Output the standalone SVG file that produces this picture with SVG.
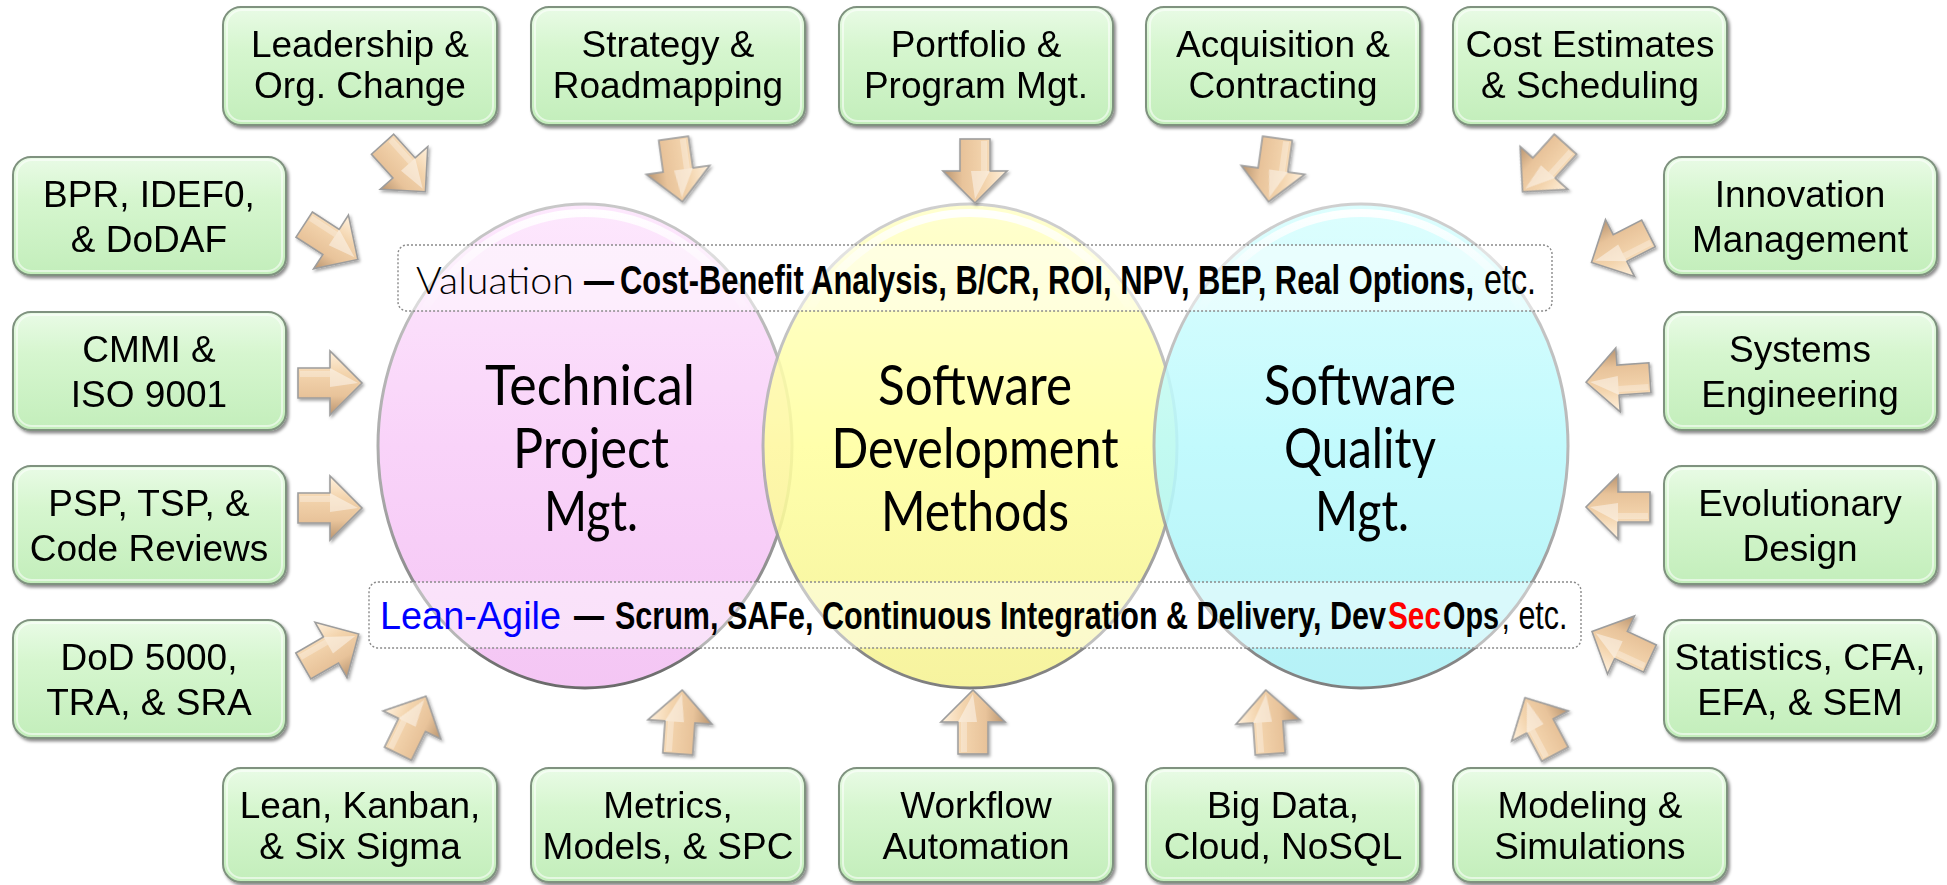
<svg xmlns="http://www.w3.org/2000/svg" xmlns:xlink="http://www.w3.org/1999/xlink" width="1947" height="885" viewBox="0 0 1947 885">
<defs>
<style>
.box{fill:url(#boxG);stroke:#7f927f;stroke-width:2;filter:url(#bsh)}
.hl{fill:none;stroke:#ffffff;stroke-opacity:0.55;stroke-width:2}
.bt{font-family:"Liberation Sans",Arial,sans-serif;font-size:37px;fill:#000;text-anchor:middle}
.ct{font-family:Lato,"Liberation Sans",sans-serif;font-size:56px;fill:#000;text-anchor:middle}
.ban{fill:#ffffff;fill-opacity:0.45;stroke:#8a8a8a;stroke-width:1.4;stroke-dasharray:2 2}
.bl{font-family:"Liberation Sans",Arial,sans-serif;font-size:30.6px;fill:#000}
.b{font-weight:bold}
.rim{fill:none;stroke:url(#rimG);stroke-width:3}
.gloss{fill:none;stroke:url(#glossG);stroke-width:8}
</style>
<linearGradient id="boxG" x1="0" y1="0" x2="0" y2="1">
<stop offset="0" stop-color="#e9fbe6"/>
<stop offset="0.35" stop-color="#d6f6cf"/>
<stop offset="1" stop-color="#c3eebb"/>
</linearGradient>
<linearGradient id="pinkG" x1="0" y1="0" x2="0" y2="1">
<stop offset="0" stop-color="#fde8fd"/>
<stop offset="0.5" stop-color="#f9d3f9"/>
<stop offset="1" stop-color="#f4c6f4"/>
</linearGradient>
<linearGradient id="yelG" x1="0" y1="0" x2="0" y2="1">
<stop offset="0" stop-color="#ffffc8"/>
<stop offset="0.5" stop-color="#ffff9e"/>
<stop offset="1" stop-color="#f5f290"/>
</linearGradient>
<linearGradient id="cyaG" x1="0" y1="0" x2="0" y2="1">
<stop offset="0" stop-color="#d8fefe"/>
<stop offset="0.5" stop-color="#b9fafd"/>
<stop offset="1" stop-color="#aaf0f5"/>
</linearGradient>
<linearGradient id="rimG" x1="0" y1="0" x2="0" y2="1">
<stop offset="0" stop-color="#c8c8c8"/>
<stop offset="0.6" stop-color="#a8a8a8"/>
<stop offset="1" stop-color="#6a6a6a"/>
</linearGradient>
<linearGradient id="glossG" x1="0" y1="0" x2="0" y2="1">
<stop offset="0" stop-color="#ffffff" stop-opacity="0.95"/>
<stop offset="0.22" stop-color="#ffffff" stop-opacity="0"/>
<stop offset="1" stop-color="#ffffff" stop-opacity="0"/>
</linearGradient>
<linearGradient id="arG" gradientUnits="userSpaceOnUse" x1="0" y1="-32" x2="0" y2="32">
<stop offset="0" stop-color="#fff1dd"/>
<stop offset="0.35" stop-color="#f3d4ad"/>
<stop offset="0.7" stop-color="#e8c39a"/>
<stop offset="1" stop-color="#b89470"/>
</linearGradient>
<filter id="bsh" x="-10%" y="-10%" width="125%" height="130%">
<feDropShadow dx="2" dy="2.5" stdDeviation="1.5" flood-color="#000" flood-opacity="0.45"/>
</filter>
<filter id="ash" x="-30%" y="-30%" width="160%" height="160%">
<feDropShadow dx="1.5" dy="2" stdDeviation="1.5" flood-color="#000" flood-opacity="0.35"/>
</filter>
<g id="arw">
<path d="M-32,-15 L0,-15 L0,-32 L32,0 L0,32 L0,15 L-32,15 Z" fill="url(#arG)" stroke="#9d9d9d" stroke-width="1.6" stroke-linejoin="miter"/>
<path d="M0,-15 L28,0 L0,4 Z" fill="#ffffff" fill-opacity="0.45"/>
<path d="M-30,-12 L0,-12 L0,-6 L-30,-6 Z" fill="#ffffff" fill-opacity="0.3"/>
</g>
</defs>

<rect x="0" y="0" width="1947" height="885" fill="#ffffff"/>

<!-- circles -->
<g id="c-tpm">
<ellipse cx="585" cy="446" rx="207" ry="242" fill="url(#pinkG)"/>
<ellipse class="rim" cx="585" cy="446" rx="207" ry="242"/>
<ellipse class="gloss" cx="585" cy="446" rx="198" ry="233"/>
</g>
<g id="c-sdm" opacity="0.86">
<ellipse cx="970" cy="446" rx="207" ry="242" fill="url(#yelG)"/>
<ellipse class="rim" cx="970" cy="446" rx="207" ry="242"/>
<ellipse class="gloss" cx="970" cy="446" rx="198" ry="233"/>
</g>
<g id="c-sqm" opacity="0.86">
<ellipse cx="1361" cy="446" rx="207" ry="242" fill="url(#cyaG)"/>
<ellipse class="rim" cx="1361" cy="446" rx="207" ry="242"/>
<ellipse class="gloss" cx="1361" cy="446" rx="198" ry="233"/>
</g>

<g id="c-labels">
<text class="ct" x="590" y="405" textLength="210" lengthAdjust="spacingAndGlyphs">Technical</text>
<text class="ct" x="591" y="468" textLength="156" lengthAdjust="spacingAndGlyphs">Project</text>
<text class="ct" x="591" y="531" textLength="94" lengthAdjust="spacingAndGlyphs">Mgt.</text>
<text class="ct" x="975" y="405" textLength="194" lengthAdjust="spacingAndGlyphs">Software</text>
<text class="ct" x="975" y="468" textLength="287" lengthAdjust="spacingAndGlyphs">Development</text>
<text class="ct" x="975" y="531" textLength="188" lengthAdjust="spacingAndGlyphs">Methods</text>
<text class="ct" x="1360" y="405" textLength="192" lengthAdjust="spacingAndGlyphs">Software</text>
<text class="ct" x="1360" y="468" textLength="152" lengthAdjust="spacingAndGlyphs">Quality</text>
<text class="ct" x="1362" y="531" textLength="94" lengthAdjust="spacingAndGlyphs">Mgt.</text>
</g>

<!-- banners -->
<g id="b-valuation">
<rect class="ban" x="398" y="245" width="1154" height="66" rx="9"/>
<text x="416" y="294" font-family="Lato,'Liberation Sans',sans-serif" font-weight="300" font-size="38" fill="#000" textLength="158" lengthAdjust="spacingAndGlyphs">Valuation</text>
<text class="bl" y="294" transform="matrix(1 0 0 1.3 0 -88.2)"><tspan class="b" x="584" textLength="30" lengthAdjust="spacingAndGlyphs">—</tspan><tspan class="b" x="620" textLength="854" lengthAdjust="spacingAndGlyphs">Cost-Benefit Analysis, B/CR, ROI, NPV, BEP, Real Options,</tspan><tspan x="1484" font-size="32" textLength="52" lengthAdjust="spacingAndGlyphs">etc.</tspan></text>
</g>
<g id="b-leanagile">
<rect class="ban" x="369" y="582" width="1212" height="66" rx="9"/>
<text x="380" y="629" font-family="'Liberation Sans',Arial,sans-serif" font-size="38" fill="#0000ff" textLength="181" lengthAdjust="spacingAndGlyphs">Lean-Agile</text>
<text class="bl" y="629" transform="matrix(1 0 0 1.3 0 -188.7)"><tspan class="b" x="574" textLength="30" lengthAdjust="spacingAndGlyphs">—</tspan><tspan class="b" x="615" font-size="30.4" textLength="771" lengthAdjust="spacingAndGlyphs">Scrum, SAFe, Continuous Integration &amp; Delivery, Dev</tspan><tspan class="b" x="1388" font-size="30.2" fill="#ff0000" textLength="53" lengthAdjust="spacingAndGlyphs">Sec</tspan><tspan class="b" x="1443" font-size="29.4" textLength="56" lengthAdjust="spacingAndGlyphs">Ops</tspan><tspan x="1501.5" font-size="30.8" textLength="66" lengthAdjust="spacingAndGlyphs">, etc.</tspan></text>
</g>

<!-- connectors -->
<g id="connectors" filter="url(#ash)">
<use href="#arw" transform="translate(404,168) rotate(48)"/>
<use href="#arw" transform="translate(678,170) rotate(82)"/>
<use href="#arw" transform="translate(975,171) rotate(90)"/>
<use href="#arw" transform="translate(1273,170) rotate(98)"/>
<use href="#arw" transform="translate(1544,168) rotate(132)"/>
<use href="#arw" transform="translate(331,242) rotate(33)"/>
<use href="#arw" transform="translate(330,383) rotate(0)"/>
<use href="#arw" transform="translate(330,508) rotate(0)"/>
<use href="#arw" transform="translate(331,650) rotate(-30)"/>
<use href="#arw" transform="translate(412,725) rotate(-64)"/>
<use href="#arw" transform="translate(680,722) rotate(-86)"/>
<use href="#arw" transform="translate(973,722) rotate(-90)"/>
<use href="#arw" transform="translate(1268,722) rotate(-94)"/>
<use href="#arw" transform="translate(1540,726) rotate(-118)"/>
<use href="#arw" transform="translate(1620,248) rotate(153)"/>
<use href="#arw" transform="translate(1618,380) rotate(176)"/>
<use href="#arw" transform="translate(1618,507) rotate(180)"/>
<use href="#arw" transform="translate(1621,645) rotate(205)"/>
</g>

<!-- top row -->
<g id="n-leadership"><rect class="box" x="223" y="7" width="274" height="118" rx="18"/><rect class="hl" x="227" y="10" width="266" height="111" rx="15"/>
<text class="bt"><tspan x="360" y="57">Leadership &amp;</tspan><tspan x="360" y="98">Org. Change</tspan></text></g>
<g id="n-strategy"><rect class="box" x="531" y="7" width="274" height="118" rx="18"/><rect class="hl" x="535" y="10" width="266" height="111" rx="15"/>
<text class="bt"><tspan x="668" y="57">Strategy &amp;</tspan><tspan x="668" y="98">Roadmapping</tspan></text></g>
<g id="n-portfolio"><rect class="box" x="839" y="7" width="274" height="118" rx="18"/><rect class="hl" x="843" y="10" width="266" height="111" rx="15"/>
<text class="bt"><tspan x="976" y="57">Portfolio &amp;</tspan><tspan x="976" y="98">Program Mgt.</tspan></text></g>
<g id="n-acquisition"><rect class="box" x="1146" y="7" width="274" height="118" rx="18"/><rect class="hl" x="1150" y="10" width="266" height="111" rx="15"/>
<text class="bt"><tspan x="1283" y="57">Acquisition &amp;</tspan><tspan x="1283" y="98">Contracting</tspan></text></g>
<g id="n-cost"><rect class="box" x="1453" y="7" width="274" height="118" rx="18"/><rect class="hl" x="1457" y="10" width="266" height="111" rx="15"/>
<text class="bt"><tspan x="1590" y="57">Cost Estimates</tspan><tspan x="1590" y="98">&amp; Scheduling</tspan></text></g>

<!-- left column -->
<g id="n-bpr"><rect class="box" x="13" y="157" width="273" height="118" rx="18"/><rect class="hl" x="17" y="160" width="265" height="111" rx="15"/>
<text class="bt"><tspan x="149" y="207">BPR, IDEF0,</tspan><tspan x="149" y="252">&amp; DoDAF</tspan></text></g>
<g id="n-cmmi"><rect class="box" x="13" y="312" width="273" height="118" rx="18"/><rect class="hl" x="17" y="315" width="265" height="111" rx="15"/>
<text class="bt"><tspan x="149" y="362">CMMI &amp;</tspan><tspan x="149" y="407">ISO 9001</tspan></text></g>
<g id="n-psp"><rect class="box" x="13" y="466" width="273" height="118" rx="18"/><rect class="hl" x="17" y="469" width="265" height="111" rx="15"/>
<text class="bt"><tspan x="149" y="516">PSP, TSP, &amp;</tspan><tspan x="149" y="561">Code Reviews</tspan></text></g>
<g id="n-dod"><rect class="box" x="13" y="620" width="273" height="118" rx="18"/><rect class="hl" x="17" y="623" width="265" height="111" rx="15"/>
<text class="bt"><tspan x="149" y="670">DoD 5000,</tspan><tspan x="149" y="715">TRA, &amp; SRA</tspan></text></g>

<!-- right column -->
<g id="n-innovation"><rect class="box" x="1664" y="157" width="273" height="118" rx="18"/><rect class="hl" x="1668" y="160" width="265" height="111" rx="15"/>
<text class="bt"><tspan x="1800" y="207">Innovation</tspan><tspan x="1800" y="252">Management</tspan></text></g>
<g id="n-systems"><rect class="box" x="1664" y="312" width="273" height="118" rx="18"/><rect class="hl" x="1668" y="315" width="265" height="111" rx="15"/>
<text class="bt"><tspan x="1800" y="362">Systems</tspan><tspan x="1800" y="407">Engineering</tspan></text></g>
<g id="n-evolutionary"><rect class="box" x="1664" y="466" width="273" height="118" rx="18"/><rect class="hl" x="1668" y="469" width="265" height="111" rx="15"/>
<text class="bt"><tspan x="1800" y="516">Evolutionary</tspan><tspan x="1800" y="561">Design</tspan></text></g>
<g id="n-statistics"><rect class="box" x="1664" y="620" width="273" height="118" rx="18"/><rect class="hl" x="1668" y="623" width="265" height="111" rx="15"/>
<text class="bt"><tspan x="1800" y="670">Statistics, CFA,</tspan><tspan x="1800" y="715">EFA, &amp; SEM</tspan></text></g>

<!-- bottom row -->
<g id="n-lean"><rect class="box" x="223" y="768" width="274" height="114" rx="18"/><rect class="hl" x="227" y="771" width="266" height="107" rx="15"/>
<text class="bt"><tspan x="360" y="818">Lean, Kanban,</tspan><tspan x="360" y="859">&amp; Six Sigma</tspan></text></g>
<g id="n-metrics"><rect class="box" x="531" y="768" width="274" height="114" rx="18"/><rect class="hl" x="535" y="771" width="266" height="107" rx="15"/>
<text class="bt"><tspan x="668" y="818">Metrics,</tspan><tspan x="668" y="859">Models, &amp; SPC</tspan></text></g>
<g id="n-workflow"><rect class="box" x="839" y="768" width="274" height="114" rx="18"/><rect class="hl" x="843" y="771" width="266" height="107" rx="15"/>
<text class="bt"><tspan x="976" y="818">Workflow</tspan><tspan x="976" y="859">Automation</tspan></text></g>
<g id="n-bigdata"><rect class="box" x="1146" y="768" width="274" height="114" rx="18"/><rect class="hl" x="1150" y="771" width="266" height="107" rx="15"/>
<text class="bt"><tspan x="1283" y="818">Big Data,</tspan><tspan x="1283" y="859">Cloud, NoSQL</tspan></text></g>
<g id="n-modeling"><rect class="box" x="1453" y="768" width="274" height="114" rx="18"/><rect class="hl" x="1457" y="771" width="266" height="107" rx="15"/>
<text class="bt"><tspan x="1590" y="818">Modeling &amp;</tspan><tspan x="1590" y="859">Simulations</tspan></text></g>
</svg>
